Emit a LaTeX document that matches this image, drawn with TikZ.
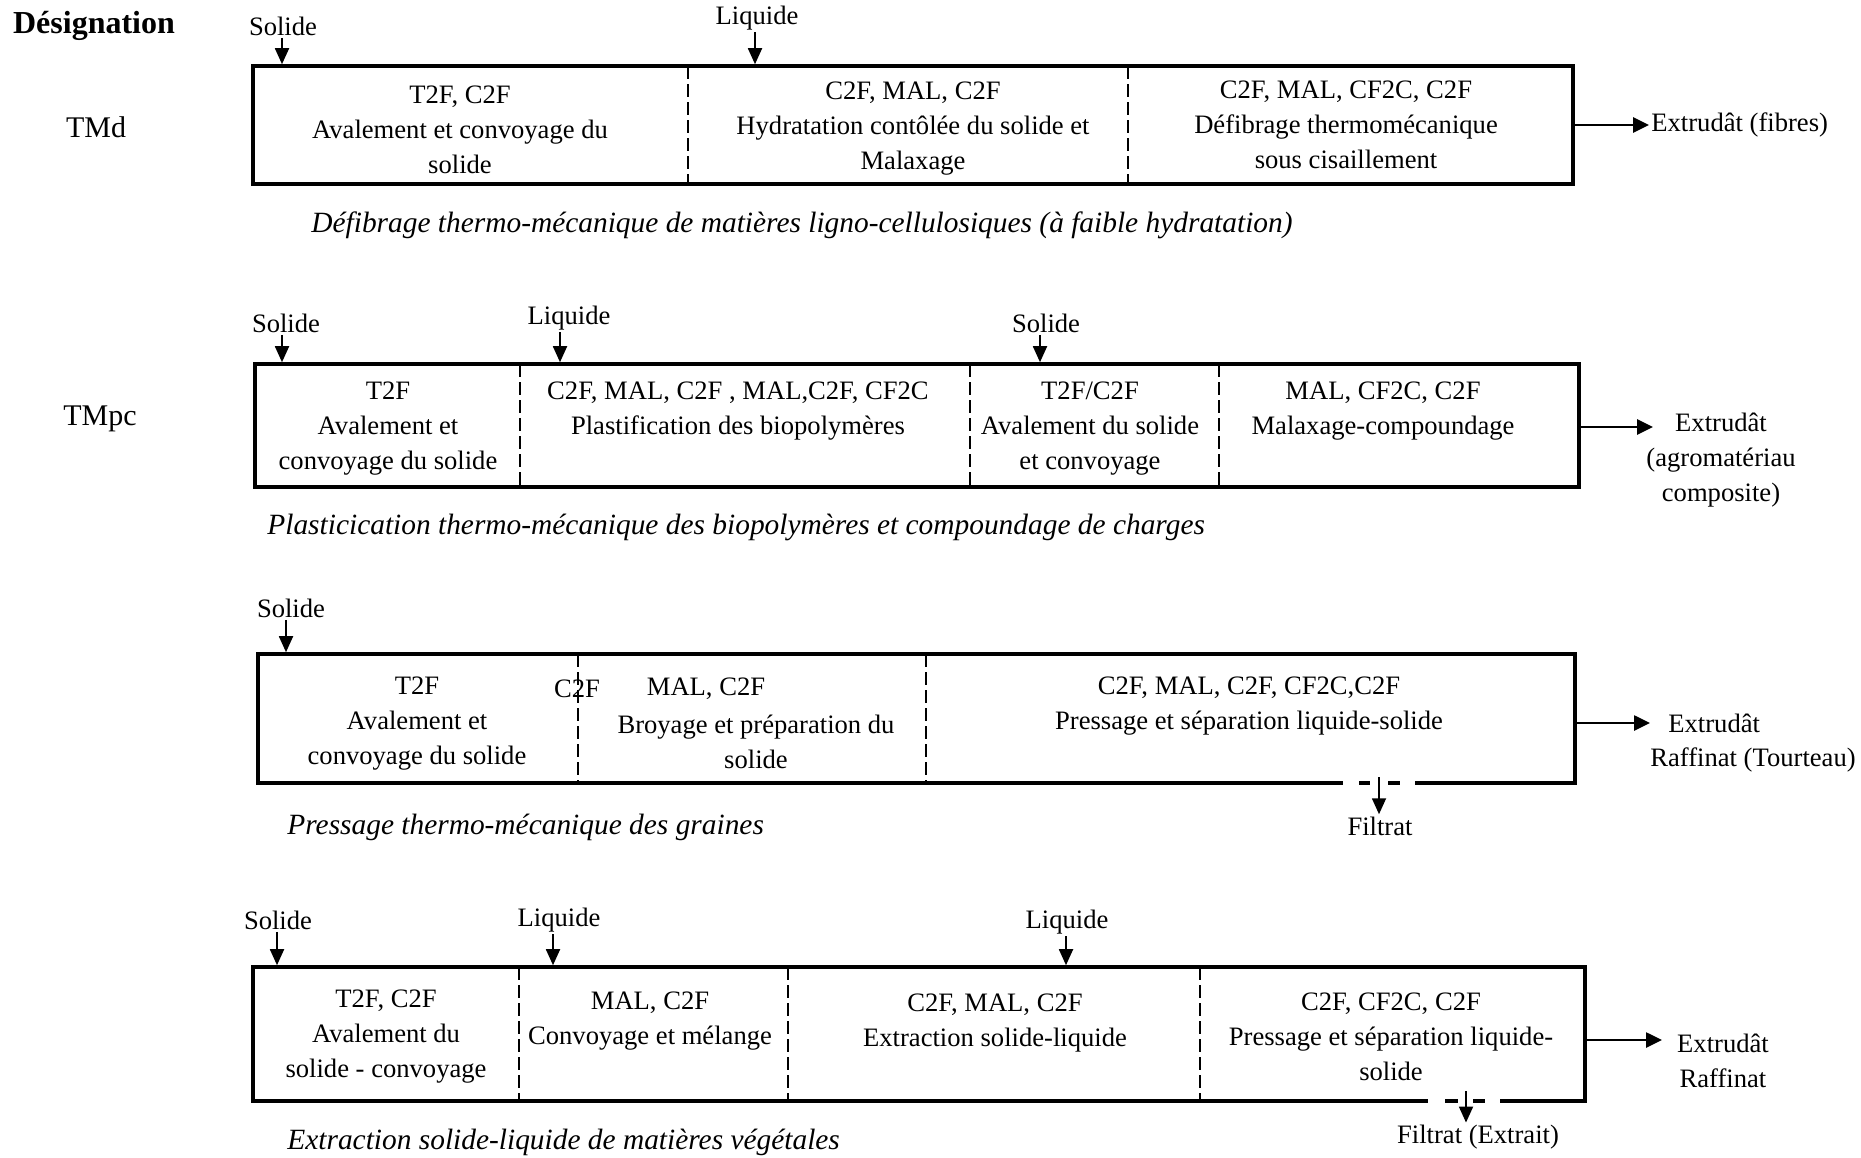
\documentclass[tikz,border=0pt]{standalone}
\usepackage{fontspec}
\setmainfont{Liberation Serif}
\usetikzlibrary{arrows.meta,fit}
\begin{document}
\begin{tikzpicture}[x=0.5pt,y=-0.5pt,
  box/.style={draw,line width=1.8pt,inner sep=0pt},
  divider/.style={line width=1.4pt,dash pattern=on 6.5pt off 2.5pt},
  txt/.style={align=center,font=\fontsize{13.3}{17.5}\selectfont,inner sep=1pt},
  lab/.style={font=\fontsize{13.3}{16}\selectfont,inner sep=1pt},
  captxt/.style={anchor=west,font=\fontsize{14.7}{17}\selectfont\itshape,inner sep=0pt},
  head/.style={font=\fontsize{15}{18}\selectfont,inner sep=1pt},
  inarr/.style={line width=0.9pt,-{Triangle[length=8pt,width=7pt]}},
  outarr/.style={line width=1.3pt,-{Triangle[length=8pt,width=7.5pt]}},
  gapfill/.style={fill=white},
  gapdash/.style={line width=1.8pt},
]
\useasboundingbox (0,0) rectangle (1861,1157);

% headings
\node[head,font=\fontsize{16}{18}\selectfont\bfseries] (des) at (94,26) {Désignation};
\node[head] (h1) at (96,127) {TMd};
\node[head] (h2) at (100,419) {TMpc};

% ---------------- Row 1 ----------------
\node[box,fit={(253,66) (1573,184)}] (b1) {};
\draw[divider] (688,66) -- (688,184);
\draw[divider] (1128,66) -- (1128,184);
\node[txt] (r1s1) at (460,130) {T2F, C2F\\Avalement et convoyage du\\solide};
\node[txt] (r1s2) at (913,129) {C2F, MAL, C2F\\Hydratation contôlée du solide et\\Malaxage};
\node[txt] (r1s3) at (1346,125) {C2F, MAL, CF2C, C2F\\Défibrage thermomécanique\\sous cisaillement};
\node[lab] (i11) at (283,26) {Solide};
\node[lab] (i12) at (757,18) {Liquide};
\draw[inarr] ([xshift=-0.5pt]i11.south) -- ([xshift=-0.5pt]i11.south |- b1.north);
\draw[inarr] ([xshift=-1pt]i12.south) -- ([xshift=-1pt]i12.south |- b1.north);
\node[lab,anchor=west] (o1) at (1649,125) {Extrudât (fibres)};
\draw[outarr] (b1.east) -- (o1.west);
\node[captxt] (c1) at (311,225) {Défibrage thermo-mécanique de matières ligno-cellulosiques (à faible hydratation)};

% ---------------- Row 2 ----------------
\node[box,fit={(255,364) (1579,487)}] (b2) {};
\draw[divider] (520,364) -- (520,487);
\draw[divider] (970,364) -- (970,487);
\draw[divider] (1219,364) -- (1219,487);
\node[txt] (r2s1) at (388,429) {T2F\\Avalement et\\convoyage du solide};
\node[txt] (r2s2) at (738,411) {C2F, MAL, C2F , MAL,C2F, CF2C\\Plastification des biopolymères};
\node[txt] (r2s3) at (1090,429) {T2F/C2F\\Avalement du solide\\et convoyage};
\node[txt] (r2s4) at (1383,411) {MAL, CF2C, C2F\\Malaxage-compoundage};
\node[lab] (i21) at (286,323) {Solide};
\node[lab] (i22) at (569,318) {Liquide};
\node[lab] (i23) at (1046,323) {Solide};
\draw[inarr] ([xshift=-2pt]i21.south) -- ([xshift=-2pt]i21.south |- b2.north);
\draw[inarr] ([xshift=-4.5pt]i22.south) -- ([xshift=-4.5pt]i22.south |- b2.north);
\draw[inarr] ([xshift=-3pt]i23.south) -- ([xshift=-3pt]i23.south |- b2.north);
\coordinate (t2) at (1653,427);
\draw[outarr] (b2.east |- t2) -- (t2);
\node[txt] (o2) at (1721,460) {Extrudât\\(agromatériau\\composite)};
\node[captxt] (c2) at (267,527) {Plasticication thermo-mécanique des biopolymères et compoundage de charges};

% ---------------- Row 3 ----------------
\node[box,fit={(258,654) (1575,783)}] (b3) {};
\draw[divider] (578,654) -- (578,783);
\draw[divider] (926,654) -- (926,783);
\node[txt] (r3s1) at (417,724) {T2F\\Avalement et\\convoyage du solide};
\node[txt] (r3c) at (577,689) {C2F};
\node[txt] (r3m) at (706,689) {MAL, C2F};
\node[txt] (r3s2) at (756,742) {Broyage et préparation du\\solide};
\node[txt] (r3s3) at (1249,706) {C2F, MAL, C2F, CF2C,C2F\\Pressage et séparation liquide-solide};
\node[lab] (i31) at (291,608) {Solide};
\draw[inarr] ([xshift=-2.5pt]i31.south) -- ([xshift=-2.5pt]i31.south |- b3.north);
\coordinate (t3) at (1650,723);
\draw[outarr] (b3.east |- t3) -- (t3);
\node[lab,anchor=west] (o3a) at (1666,723) {Extrudât};
\node[lab,anchor=west] (o3b) at (1648,760) {Raffinat (Tourteau)};
% filtrat outlet
\fill[gapfill] (1343,779) rectangle (1415,787);
\draw[gapdash] (1359,783) -- (1370,783);
\draw[gapdash] (1388,783) -- (1400,783);
\coordinate (f3s) at (1379,777);
\node[lab] (f3) at (1380,826) {Filtrat};
\draw[inarr] (f3s) -- (f3s |- f3.north);
\node[captxt] (c3) at (287,827) {Pressage thermo-mécanique des graines};

% ---------------- Row 4 ----------------
\node[box,fit={(253,967) (1585,1101)}] (b4) {};
\draw[divider] (519,967) -- (519,1101);
\draw[divider] (788,967) -- (788,1101);
\draw[divider] (1200,967) -- (1200,1101);
\node[txt] (r4s1) at (386,1037) {T2F, C2F\\Avalement du\\solide - convoyage};
\node[txt] (r4s2) at (650,1021) {MAL, C2F\\Convoyage et mélange};
\node[txt] (r4s3) at (995,1023) {C2F, MAL, C2F\\Extraction solide-liquide};
\node[txt] (r4s4) at (1391,1037) {C2F, CF2C, C2F\\Pressage et séparation liquide-\\solide};
\node[lab] (i41) at (278,920) {Solide};
\node[lab] (i42) at (559,920) {Liquide};
\node[lab] (i43) at (1067,922) {Liquide};
\draw[inarr] ([xshift=-0.5pt]i41.south) -- ([xshift=-0.5pt]i41.south |- b4.north);
\draw[inarr] ([xshift=-3pt]i42.south) -- ([xshift=-3pt]i42.south |- b4.north);
\draw[inarr] ([xshift=-0.5pt]i43.south) -- ([xshift=-0.5pt]i43.south |- b4.north);
\coordinate (t4) at (1662,1040);
\draw[outarr] (b4.east |- t4) -- (t4);
\node[txt] (o4) at (1723,1061) {Extrudât\\Raffinat};
% filtrat outlet
\fill[gapfill] (1428,1097) rectangle (1500,1105);
\draw[gapdash] (1445,1101) -- (1458,1101);
\draw[gapdash] (1473,1101) -- (1485,1101);
\coordinate (f4s) at (1466,1091);
\node[lab] (f4) at (1478,1137) {Filtrat (Extrait)};
\draw[inarr] (f4s) -- (f4s |- f4.north);
\node[captxt] (c4) at (287,1142) {Extraction solide-liquide de matières végétales};
\end{tikzpicture}
\end{document}
